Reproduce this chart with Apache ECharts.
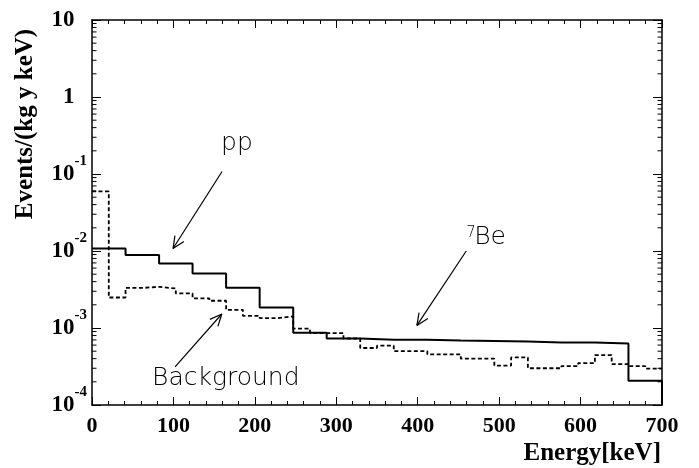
<!DOCTYPE html>
<html><head><meta charset="utf-8">
<script src="https://cdn.jsdelivr.net/npm/echarts@6/dist/echarts.min.js"></script>
<style>html,body{margin:0;padding:0;background:#fff}#c{width:699px;height:468px}</style>
</head><body><div id="c"></div>
<script>
// ---- data ----
const signalEdges = [0, 41.2, 82.4, 123.5, 164.7, 205.9, 247.1, 288.2, 329.4, 370.6, 411.8, 452.9, 494.1, 535.3, 576.5, 617.6, 658.8, 700];
const signalValues = [0.0108, 0.00887, 0.00686, 0.00509, 0.00334, 0.00185, 0.00087, 0.00073, 0.000704, 0.000704, 0.00069, 0.00068, 0.00067, 0.00065, 0.00065, 0.00063, 0.000206];
const backgroundEdges = [0, 20.6, 41.2, 61.8, 82.4, 102.9, 123.5, 144.1, 164.7, 185.3, 205.9, 226.5, 247.1, 267.6, 288.2, 308.8, 329.4, 350, 370.6, 391.2, 411.8, 432.4, 452.9, 473.5, 494.1, 514.7, 535.3, 555.9, 576.5, 597.1, 617.6, 638.2, 658.8, 679.4, 700];
const backgroundValues = [0.0594, 0.00249, 0.00331, 0.00343, 0.00326, 0.00281, 0.00243, 0.00226, 0.00172, 0.00144, 0.00134, 0.00142, 0.00098, 0.00086, 0.00086, 0.00073, 0.00055, 0.00059, 0.0005, 0.0005, 0.000455, 0.000455, 0.0004, 0.0004, 0.000325, 0.000415, 0.0003, 0.0003, 0.00032, 0.00035, 0.000445, 0.00034, 0.00032, 0.000297];
const xTickLabels = ['0', '100', '200', '300', '400', '500', '600', '700'];
const yDecadeValues = [1e-4, 1e-3, 1e-2, 1e-1, 1, 10];
const yDecadeExponents = ['-4', '-3', '-2', '-1', '', ''];
const yDecadeBases = ['10', '10', '10', '10', '1', '10'];
const minorMultipliers = [2, 3, 4, 5, 6, 7, 8, 9];
const minorDecades = [1e-4, 1e-3, 1e-2, 1e-1, 1];
// annotations: arrows [fromX, fromY, toX, toY] in data units
const arrows = [[159.7, 0.1076, 99.5, 0.01076], [459.6, 0.01, 399, 0.00108], [102, 0.000312, 159.4, 0.00152]];
const labelTexts = ['pp', 'Be', '7', 'Background'];
const labelAnchors = [[158.5, 0.251], [469.4, 0.01494], [459.6, 0.01706], [73.7, 0.00022]];
const labelSizes = [25, 25, 15, 25];

// ---- build ----
function stepData(edges, values, dropTo) {
  const d = values.map((v, i) => [edges[i], v]);
  d.push([edges[edges.length - 1], values[values.length - 1]]);
  if (dropTo !== undefined) d.push([edges[edges.length - 1], dropTo]);
  return d;
}
const minorTicks = [];
minorDecades.forEach(dec => minorMultipliers.forEach(m => {
  minorTicks.push([0, m * dec, 1]);
  minorTicks.push([700, m * dec, -1]);
}));

const serif = '"Liberation Serif","Times New Roman",serif';
const chart = echarts.init(document.getElementById('c'), null, {renderer: 'canvas'});
const yLabelFmt = function (v) {
  let i = -1, best = 1e9;
  yDecadeValues.forEach((d, k) => { const diff = Math.abs(Math.log10(d) - Math.log10(v)); if (diff < best) { best = diff; i = k; } });
  if (best > 0.01) return '';
  const ex = yDecadeExponents[i];
  return '{b|' + yDecadeBases[i] + '}' + (ex ? '{e|' + ex + '}' : '{h|-1}');
};
const axisLineStyle = {color: '#000', width: 1.5};
const option = {
  animation: false,
  backgroundColor: '#fff',
  grid: {left: 92, right: 37, top: 17, bottom: 63, containLabel: false},
  xAxis: [{
    type: 'value', min: 0, max: 700, interval: 100, position: 'bottom',
    axisLine: {show: true, onZero: false, lineStyle: axisLineStyle},
    axisTick: {show: true, inside: true, length: 8, lineStyle: {color: '#000', width: 1}},
    minorTick: {show: true, splitNumber: 5, length: 4, lineStyle: {color: '#000', width: 1}},
    splitLine: {show: false},
    axisLabel: {margin: 10, fontFamily: serif, fontWeight: 'bold', fontSize: 22, color: '#000',
      formatter: v => xTickLabels[Math.round(v / 100)] || ''}
  }, {
    type: 'value', min: 0, max: 700, interval: 100, position: 'top',
    axisLine: {show: true, onZero: false, lineStyle: axisLineStyle},
    axisTick: {show: true, inside: true, length: 8, lineStyle: {color: '#000', width: 1}},
    minorTick: {show: true, splitNumber: 5, length: 4, lineStyle: {color: '#000', width: 1}},
    splitLine: {show: false}, axisLabel: {show: false}
  }],
  yAxis: [{
    type: 'log', logBase: 10, min: 1e-4, max: 10, splitNumber: 5, position: 'left',
    axisLine: {show: true, onZero: false, lineStyle: axisLineStyle},
    axisTick: {show: true, inside: true, length: 9, lineStyle: {color: '#000', width: 1}},
    splitLine: {show: false},
    axisLabel: {show: true, showMinLabel: true, showMaxLabel: true, margin: 5, formatter: yLabelFmt,
      rich: {
        b: {fontFamily: serif, fontWeight: 'bold', fontSize: 23, lineHeight: 40, verticalAlign: 'middle', color: '#000'},
        e: {fontFamily: serif, fontWeight: 'bold', fontSize: 15, lineHeight: 16, verticalAlign: 'top', color: '#000'},
        h: {fontFamily: serif, fontWeight: 'bold', fontSize: 15, lineHeight: 16, verticalAlign: 'top', color: 'rgba(0,0,0,0)'}
      }}
  }, {
    type: 'log', logBase: 10, min: 1e-4, max: 10, splitNumber: 5, position: 'right',
    axisLine: {show: true, onZero: false, lineStyle: axisLineStyle},
    axisTick: {show: true, inside: true, length: 9, lineStyle: {color: '#000', width: 1}},
    splitLine: {show: false}, axisLabel: {show: false}
  }],
  graphic: [
    {type: 'text', x: 26, y: 124, rotation: Math.PI / 2,
      style: {text: 'Events/(kg y keV)', font: 'bold 25px ' + serif, fill: '#000', align: 'center', verticalAlign: 'middle'}},
    {type: 'text', x: 661, y: 454,
      style: {text: 'Energy[keV]', font: 'bold 25px ' + serif, fill: '#000', align: 'right', verticalAlign: 'middle'}}
  ],
  series: [
    {type: 'line', name: 'signal', step: 'end', symbol: 'none', data: stepData(signalEdges, signalValues, 1e-4),
      lineStyle: {color: '#000', width: 2}, z: 3},
    {type: 'line', name: 'background', step: 'end', symbol: 'none', data: stepData(backgroundEdges, backgroundValues),
      lineStyle: {color: '#000', width: 1.8, type: [4, 2.5]}, z: 2},
    {type: 'custom', name: 'logMinorTicks', data: minorTicks, clip: false, silent: true, z: 4,
      renderItem: function (params, api) {
        const p = api.coord([api.value(0), api.value(1)]);
        const dir = api.value(2);
        return {type: 'line', shape: {x1: p[0], y1: p[1], x2: p[0] + dir * 4.5, y2: p[1]},
          style: {stroke: '#000', lineWidth: 1}};
      }},
    {type: 'custom', name: 'arrows', data: arrows, clip: false, silent: true, z: 5,
      encode: {x: [0, 2], y: [1, 3]},
      renderItem: function (params, api) {
        const a = api.coord([api.value(0), api.value(1)]);
        const b = api.coord([api.value(2), api.value(3)]);
        const ang = Math.atan2(b[1] - a[1], b[0] - a[0]);
        const L = 13, s = 0.42;
        const h1 = [b[0] - L * Math.cos(ang - s), b[1] - L * Math.sin(ang - s)];
        const h2 = [b[0] - L * Math.cos(ang + s), b[1] - L * Math.sin(ang + s)];
        const st = {stroke: '#000', lineWidth: 1.2};
        return {type: 'group', children: [
          {type: 'line', shape: {x1: a[0], y1: a[1], x2: b[0], y2: b[1]}, style: st},
          {type: 'line', shape: {x1: b[0], y1: b[1], x2: h1[0], y2: h1[1]}, style: st},
          {type: 'line', shape: {x1: b[0], y1: b[1], x2: h2[0], y2: h2[1]}, style: st}
        ]};
      }},
    {type: 'custom', name: 'labels', data: labelAnchors.map((p, i) => [p[0], p[1], i]), clip: false, silent: true, z: 5,
      renderItem: function (params, api) {
        const p = api.coord([api.value(0), api.value(1)]);
        const i = api.value(2);
        return {type: 'text', x: p[0], y: p[1],
          style: {text: labelTexts[i], font: '200 ' + labelSizes[i] + 'px "DejaVu Sans", sans-serif', fill: '#000',
            align: 'left', verticalAlign: 'middle'}};
      }}
  ]
};
chart.setOption(option);
</script></body></html>
